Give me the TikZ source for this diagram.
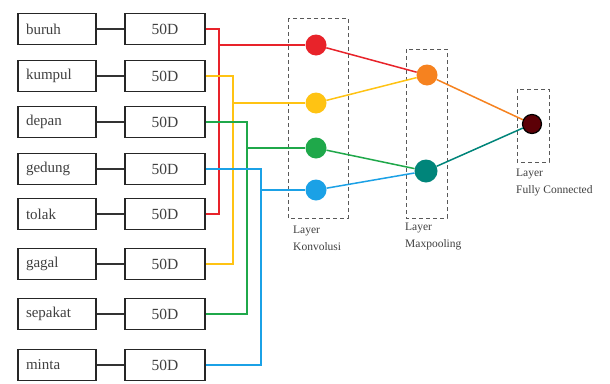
\documentclass[tikz,border=0pt]{standalone}
\usepackage{fontspec}
\setmainfont{Liberation Serif}
\begin{document}
\begin{tikzpicture}[x=1pt,y=-1pt,
  wordbox/.style={draw=black!85,line width=1.8pt,text width=62pt,align=left,inner xsep=8pt,minimum height=31pt,font=\fontsize{15}{16}\selectfont,text=black!75},
  dimbox/.style={draw=black!85,line width=1.8pt,minimum width=80pt,minimum height=31pt,font=\fontsize{15.5}{16}\selectfont,text=black!75},
  blink/.style={draw=black!80,line width=1.8pt},
  wire/.style={line width=2.8pt},
  thin/.style={line width=1.5pt},
  dot/.style={circle,minimum size=21pt,inner sep=0pt},
  layerbox/.style={draw=black!65,dash pattern=on 4pt off 3pt,line width=0.9pt},
  lbl/.style={font=\fontsize{11.5}{16.5}\selectfont,align=left,text=black!75,anchor=north west,inner sep=0pt}
]
\useasboundingbox[fill=white] (0,0) rectangle (610,383);
\definecolor{cred}{HTML}{E8232A}
\definecolor{cyel}{HTML}{FFC313}
\definecolor{cgrn}{HTML}{1FA84A}
\definecolor{cblu}{HTML}{1BA1E6}
\definecolor{corg}{HTML}{F6821F}
\definecolor{ctea}{HTML}{00857A}
\definecolor{cdrk}{HTML}{5C0006}

% word and dimension boxes
\foreach \i/\w/\y in {1/buruh/29,2/kumpul/76,3/depan/122,4/gedung/169,5/tolak/214,6/gagal/264,7/sepakat/314,8/minta/365}{
  \node[wordbox] (w\i) at (57,\y) {\w};
  \node[dimbox] (d\i) at (165,\y) {50D};
  \draw[blink] (w\i) -- (d\i);
}

% layer boxes
\draw[layerbox] (288,18) rectangle (348,218);
\draw[layerbox] (406,49) rectangle (447,218);
\draw[layerbox] (517,89) rectangle (549,162);

% nodes
\node[dot,fill=cred] (c1) at (316,45) {};
\node[dot,fill=cyel] (c2) at (316,103) {};
\node[dot,fill=cgrn] (c3) at (316,148) {};
\node[dot,fill=cblu] (c4) at (316,190) {};
\node[dot,fill=corg] (m1) at (427,75) {};
\node[dot,fill=ctea,minimum size=23pt] (m2) at (426,171) {};
\node[dot,fill=cdrk,draw=black,line width=1.2pt,minimum size=19pt] (f1) at (532,124) {};

% bus lines
\coordinate (rx) at (219,0);
\coordinate (yx) at (233,0);
\coordinate (gx) at (247,0);
\coordinate (bx) at (261,0);
\draw[wire,cred] (d1.east) -| (rx |- d5.east) -- (d5.east);
\draw[wire,cyel] (d2.east) -| (yx |- d6.east) -- (d6.east);
\draw[wire,cgrn] (d3.east) -| (gx |- d7.east) -- (d7.east);
\draw[wire,cblu] (d4.east) -| (bx |- d8.east) -- (d8.east);
\draw[wire,cred] (rx |- c1) -- (c1);
\draw[wire,cyel] (yx |- c2) -- (c2);
\draw[wire,cgrn] (gx |- c3) -- (c3);
\draw[wire,cblu] (bx |- c4) -- (c4);

% network connections
\draw[thin,cred] (c1) -- (m1);
\draw[thin,cyel] (c2) -- (m1);
\draw[thin,cgrn] (c3) -- (m2);
\draw[thin,cblu] (c4) -- (m2);
\draw[thin,corg] (m1) -- (f1);
\draw[thin,ctea] (m2) -- (f1);

% labels
\node[lbl] (l1) at (293,226) {Layer\\Konvolusi};
\node[lbl] (l2) at (405,223) {Layer\\Maxpooling};
\node[lbl] (l3) at (516,169) {Layer\\Fully Connected};
\end{tikzpicture}
\end{document}
